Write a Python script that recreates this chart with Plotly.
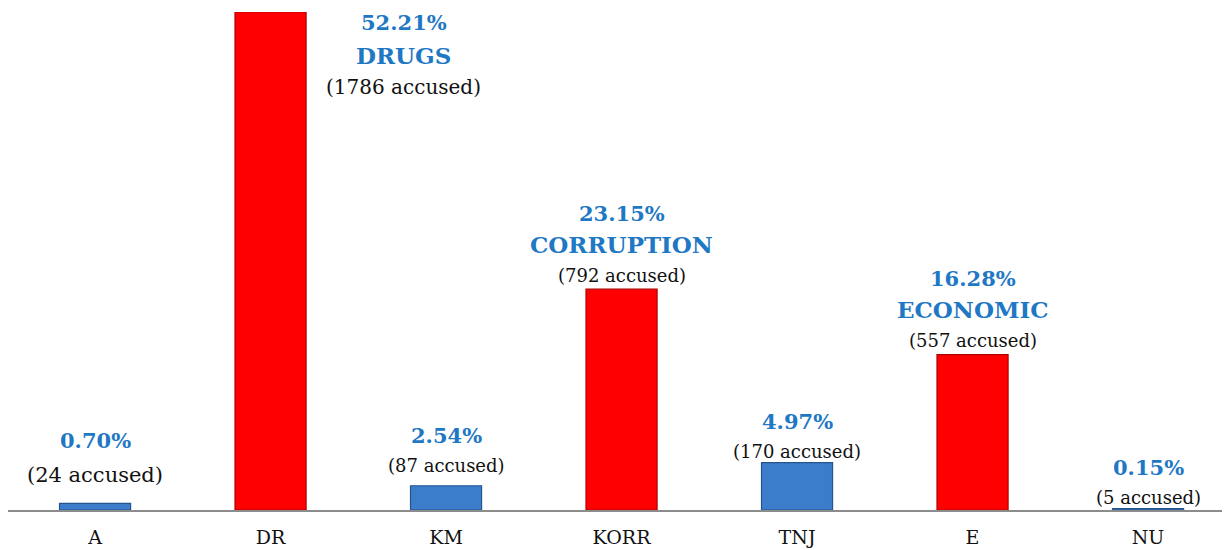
import plotly.graph_objects as go

categories = ["A", "DR", "KM", "KORR", "TNJ", "E", "NU"]
percent = [0.70, 52.21, 2.54, 23.15, 4.97, 16.28, 0.15]
accused = [24, 1786, 87, 792, 170, 557, 5]
group_names = ["", "DRUGS", "", "CORRUPTION", "", "ECONOMIC", ""]
highlight = [False, True, False, True, False, True, False]

RED = "#FF0000"
RED_EDGE = "#B00000"
BLUE = "#3C7DCB"
BLUE_EDGE = "#25548F"
LABEL_BLUE = "#1F78C4"
FONT = "DejaVu Serif, Palatino Linotype, Book Antiqua, serif"

colors = [RED if h else BLUE for h in highlight]
edges = [RED_EDGE if h else BLUE_EDGE for h in highlight]

fig = go.Figure()
fig.add_trace(go.Bar(
    x=categories,
    y=percent,
    width=0.405,
    marker=dict(color=colors, line=dict(color=edges, width=1.2)),
    hoverinfo="skip",
))

annotations = []
for i, (c, p, n, g) in enumerate(zip(categories, percent, accused, group_names)):
    pct_txt = f"<b>{p:.2f}%</b>"
    acc_txt = f"({n} accused)"
    if c == "DR":
        lines = [(pct_txt, LABEL_BLUE, 21, -10), (f"<b>{g}</b>", LABEL_BLUE, 23, -43),
                 (acc_txt, "#111111", 20, -75)]
        for txt, col, size, dy in lines:
            annotations.append(dict(x=i, y=p, xref="x", yref="y", text=txt, showarrow=False,
                                    xshift=133, yshift=dy, xanchor="center", yanchor="middle",
                                    font=dict(family=FONT, size=size, color=col)))
        continue
    if c == "A":
        lines = [(pct_txt, LABEL_BLUE, 21, 63), (acc_txt, "#111111", 21, 28)]
    elif c == "KM":
        lines = [(pct_txt, LABEL_BLUE, 21, 50), (acc_txt, "#111111", 18, 20)]
    elif g:
        lines = [(pct_txt, LABEL_BLUE, 21, 76), (f"<b>{g}</b>", LABEL_BLUE, 23, 45),
                 (acc_txt, "#111111", 18, 14)]
    else:
        lines = [(pct_txt, LABEL_BLUE, 21, 41), (acc_txt, "#111111", 18, 11)]
    for txt, col, size, dy in lines:
        annotations.append(dict(x=i, y=p, xref="x", yref="y", text=txt, showarrow=False,
                                yshift=dy, xanchor="center", yanchor="middle",
                                font=dict(family=FONT, size=size, color=col)))

fig.update_layout(
    width=1222, height=542,
    margin=dict(l=0, r=0, t=4, b=40),
    paper_bgcolor="white", plot_bgcolor="white",
    showlegend=False,
    annotations=annotations,
    xaxis=dict(
        range=[-0.496, 6.467],
        showline=True, linecolor="#8C8C8C", linewidth=1.5,
        ticks="", showgrid=False, zeroline=False,
        ticklabelstandoff=9,
        tickfont=dict(family=FONT, size=19, color="#111111"),
    ),
    yaxis=dict(
        range=[0, 52.21], visible=False, showgrid=False, zeroline=False,
    ),
)

fig.write_html("out.html")
